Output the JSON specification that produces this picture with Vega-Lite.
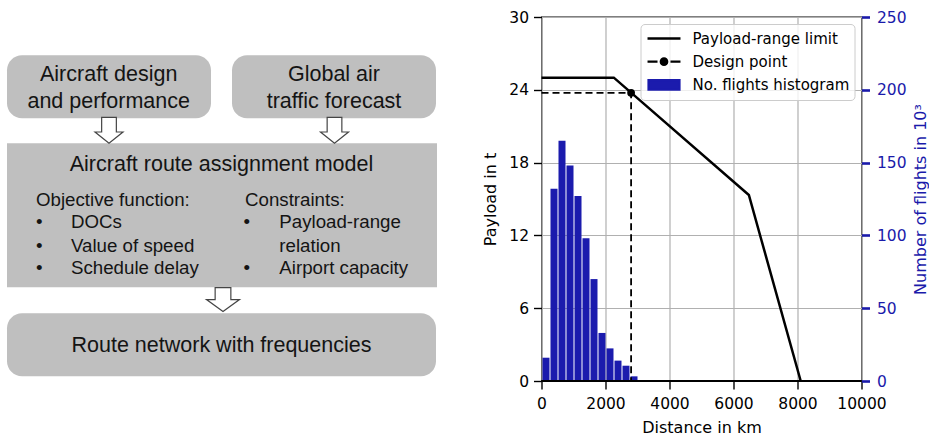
{
  "$schema": "https://vega.github.io/schema/vega-lite/v6.json",
  "padding": {"top": 9, "left": 0, "right": 0, "bottom": 0},
  "background": "white",
  "spacing": 36.5,
  "resolve": {"scale": {"fill": "independent", "stroke": "independent", "shape": "independent"}, "legend": {"fill": "independent", "stroke": "independent", "shape": "independent"}},
  "config": {
    "view": {"stroke": null},
    "font": "DejaVu Sans",
    "axis": {"labelFont": "DejaVu Sans", "titleFont": "DejaVu Sans", "labelColor": "black", "titleColor": "black", "titleFontWeight": "normal", "labelFontSize": 15.5, "titleFontSize": 16, "tickColor": "black", "tickWidth": 1.4, "tickSize": 8, "gridColor": "#b0b0b0", "gridWidth": 1.2, "gridOpacity": 1, "domain": false}
  },
  "datasets": {
    "rounded_boxes": [
      {"box": "Aircraft design and performance", "x1": 7, "x2": 211, "y1": 55, "y2": 118},
      {"box": "Global air traffic forecast", "x1": 232, "x2": 436, "y1": 55, "y2": 118},
      {"box": "Route network with frequencies", "x1": 7, "x2": 436, "y1": 313, "y2": 376}
    ],
    "model_box": [
      {"box": "Aircraft route assignment model", "x1": 7, "x2": 437, "y1": 143, "y2": 287}
    ],
    "arrows_top": [{"x": 109, "y": 130}, {"x": 334.5, "y": 130}],
    "arrow_bottom": [{"x": 223, "y": 299.3}],
    "box_titles": [
      {"label": "Aircraft design", "x": 108.7, "y": 81},
      {"label": "and performance", "x": 108.7, "y": 107.7},
      {"label": "Global air", "x": 334, "y": 81},
      {"label": "traffic forecast", "x": 334, "y": 107.7},
      {"label": "Aircraft route assignment model", "x": 221.5, "y": 170.5},
      {"label": "Route network with frequencies", "x": 221.5, "y": 351.7}
    ],
    "list_items": [
      {"label": "Objective function:", "x": 36, "y": 205.7},
      {"label": "•", "x": 36, "y": 227.7},
      {"label": "DOCs", "x": 71, "y": 227.7},
      {"label": "•", "x": 36, "y": 251.7},
      {"label": "Value of speed", "x": 71, "y": 251.7},
      {"label": "•", "x": 36, "y": 273.3},
      {"label": "Schedule delay", "x": 71, "y": 273.3},
      {"label": "Constraints:", "x": 245, "y": 205.7},
      {"label": "•", "x": 243.5, "y": 227.7},
      {"label": "Payload-range", "x": 279.3, "y": 227.7},
      {"label": "relation", "x": 279.3, "y": 251.7},
      {"label": "•", "x": 243.5, "y": 273.3},
      {"label": "Airport capacity", "x": 279.3, "y": 273.3}
    ],
    "payload_range": [
      {"distance": 0, "payload": 25},
      {"distance": 2260, "payload": 25},
      {"distance": 6480, "payload": 15.33},
      {"distance": 8100, "payload": 0}
    ],
    "design_path": [
      {"step": 1, "distance": 0, "payload": 23.75},
      {"step": 2, "distance": 2800, "payload": 23.75},
      {"step": 3, "distance": 2800, "payload": 0}
    ],
    "design_point": [{"distance": 2800, "payload": 23.75}],
    "flights": [
      {"start": 0, "end": 250, "count": 16},
      {"start": 250, "end": 500, "count": 132},
      {"start": 500, "end": 750, "count": 165},
      {"start": 750, "end": 1000, "count": 148},
      {"start": 1000, "end": 1250, "count": 127},
      {"start": 1250, "end": 1500, "count": 98},
      {"start": 1500, "end": 1750, "count": 70},
      {"start": 1750, "end": 2000, "count": 33},
      {"start": 2000, "end": 2250, "count": 22.4},
      {"start": 2250, "end": 2500, "count": 14},
      {"start": 2500, "end": 2750, "count": 10.5},
      {"start": 2750, "end": 3000, "count": 3.2}
    ],
    "legend_entries": [
      {"series": "Payload-range limit"},
      {"series": "Design point"},
      {"series": "No. flights histogram"}
    ]
  },
  "hconcat": [
    {
      "width": 445,
      "height": 364,
      "view": {"stroke": null},
      "layer": [
        {
          "data": {"name": "rounded_boxes"},
          "mark": {"type": "rect", "cornerRadius": 15, "fill": "#bfbfbf"},
          "encoding": {
            "x": {"field": "x1", "type": "quantitative", "scale": {"domain": [0, 445], "nice": false, "zero": false}, "axis": null},
            "x2": {"field": "x2"},
            "y": {"field": "y1", "type": "quantitative", "scale": {"domain": [16.7, 380.7], "reverse": true, "nice": false, "zero": false}, "axis": null},
            "y2": {"field": "y2"}
          }
        },
        {
          "data": {"name": "model_box"},
          "mark": {"type": "rect", "fill": "#bfbfbf"},
          "encoding": {
            "x": {"field": "x1", "type": "quantitative"},
            "x2": {"field": "x2"},
            "y": {"field": "y1", "type": "quantitative"},
            "y2": {"field": "y2"}
          }
        },
        {
          "data": {"name": "arrows_top"},
          "mark": {"type": "point", "shape": "M-0.525,-0.929L0.525,-0.929L0.525,0.12L1,0.12L0,0.929L-1,0.12L-0.525,0.12Z", "size": 784, "filled": true, "fill": "white", "stroke": "#454545", "strokeWidth": 1.2, "opacity": 1},
          "encoding": {
            "x": {"field": "x", "type": "quantitative"},
            "y": {"field": "y", "type": "quantitative"}
          }
        },
        {
          "data": {"name": "arrow_bottom"},
          "mark": {"type": "point", "shape": "M-0.476,-0.727L0.476,-0.727L0.476,0L1,0L0,0.727L-1,0L-0.476,0Z", "size": 1089, "filled": true, "fill": "white", "stroke": "#454545", "strokeWidth": 1.2, "opacity": 1},
          "encoding": {
            "x": {"field": "x", "type": "quantitative"},
            "y": {"field": "y", "type": "quantitative"}
          }
        },
        {
          "data": {"name": "box_titles"},
          "mark": {"type": "text", "font": "Liberation Sans", "fontSize": 21.5, "align": "center", "baseline": "alphabetic", "color": "#141414"},
          "encoding": {
            "x": {"field": "x", "type": "quantitative"},
            "y": {"field": "y", "type": "quantitative"},
            "text": {"field": "label"}
          }
        },
        {
          "data": {"name": "list_items"},
          "mark": {"type": "text", "font": "Liberation Sans", "fontSize": 18.7, "align": "left", "baseline": "alphabetic", "color": "#141414"},
          "encoding": {
            "x": {"field": "x", "type": "quantitative"},
            "y": {"field": "y", "type": "quantitative"},
            "text": {"field": "label"}
          }
        }
      ]
    },
    {
      "width": 320,
      "height": 364,
      "view": {"stroke": "black", "strokeWidth": 1.3},
      "resolve": {"scale": {"y": "independent"}},
      "layer": [
        {
          "data": {"name": "flights"},
          "mark": {"type": "bar", "color": "#1b1bad", "opacity": 1},
          "encoding": {
            "x": {"field": "start", "type": "quantitative", "bin": "binned", "scale": {"domain": [0, 10000], "nice": false, "zero": false},
              "axis": {"title": "Distance in km", "values": [0, 2000, 4000, 6000, 8000, 10000], "format": "d", "grid": true, "labelFlush": false, "labelOverlap": false, "labelPadding": 7, "titlePadding": 8}},
            "x2": {"field": "end"},
            "y": {"field": "count", "type": "quantitative", "scale": {"domain": [0, 250], "nice": false},
              "axis": {"orient": "right", "title": "Number of flights in 10³", "values": [0, 50, 100, 150, 200, 250], "grid": false, "labelColor": "#1a1aaa", "titleColor": "#1a1aaa", "tickColor": "#1a1aaa", "tickWidth": 2.6, "labelPadding": 7, "titlePadding": 6, "titleAngle": 270, "titleBaseline": "top"}}
          }
        },
        {
          "layer": [
            {
              "data": {"name": "payload_range"},
              "mark": {"type": "line", "color": "black", "strokeWidth": 2.5},
              "encoding": {
                "x": {"field": "distance", "type": "quantitative"},
                "y": {"field": "payload", "type": "quantitative", "scale": {"domain": [0, 30], "nice": false},
                  "axis": {"orient": "left", "title": "Payload in t", "values": [0, 6, 12, 18, 24, 30], "grid": true, "labelPadding": 5, "titlePadding": 10}}
              }
            },
            {
              "data": {"name": "design_path"},
              "mark": {"type": "line", "color": "black", "strokeWidth": 1.8, "strokeDash": [7, 4]},
              "encoding": {
                "x": {"field": "distance", "type": "quantitative"},
                "y": {"field": "payload", "type": "quantitative"},
                "order": {"field": "step", "type": "quantitative"}
              }
            },
            {
              "data": {"name": "design_point"},
              "mark": {"type": "point", "filled": true, "color": "black", "size": 60, "opacity": 1},
              "encoding": {
                "x": {"field": "distance", "type": "quantitative"},
                "y": {"field": "payload", "type": "quantitative"}
              }
            },
            {
              "data": {"name": "payload_range"},
              "mark": {"type": "rule", "color": "black", "strokeWidth": 1.3},
              "encoding": {
                "y": {"datum": 0}
              }
            },
            {
              "data": {"name": "legend_entries"},
              "transform": [{"filter": "false"}],
              "mark": {"type": "point", "filled": true, "opacity": 1},
              "encoding": {
                "fill": {"field": "series", "type": "nominal",
                  "scale": {"domain": ["Payload-range limit", "Design point", "No. flights histogram"], "range": ["black", "black", "#1b1bad"]},
                  "legend": {"title": null, "orient": "top-right", "offset": 7, "padding": 5, "fillColor": "rgba(255,255,255,0.8)", "strokeColor": "#cccccc", "cornerRadius": 4, "labelFont": "DejaVu Sans", "labelFontSize": 15, "labelColor": "black", "symbolSize": 256, "symbolStrokeWidth": 2.3, "symbolOffset": 9, "labelOffset": 19, "rowPadding": 5.2, "symbolOpacity": 1}},
                "stroke": {"field": "series", "type": "nominal",
                  "scale": {"domain": ["Payload-range limit", "Design point", "No. flights histogram"], "range": ["black", "black", "#1b1bad"]},
                  "legend": {"title": null, "orient": "top-right", "offset": 7, "padding": 5, "fillColor": "rgba(255,255,255,0.8)", "strokeColor": "#cccccc", "cornerRadius": 4, "labelFont": "DejaVu Sans", "labelFontSize": 15, "labelColor": "black", "symbolSize": 256, "symbolStrokeWidth": 2.3, "symbolOffset": 9, "labelOffset": 19, "rowPadding": 5.2, "symbolOpacity": 1}},
                "shape": {"field": "series", "type": "nominal",
                  "scale": {"domain": ["Payload-range limit", "Design point", "No. flights histogram"], "range": ["M-2.06,0L2.06,0", "M-2.06,0L-0.81,0M0.81,0L2.06,0M-0.4,0A0.4,0.4,0,1,1,0.4,0A0.4,0.4,0,1,1,-0.4,0Z", "M-1.93,-0.58L1.93,-0.58L1.93,0.58L-1.93,0.58Z"]},
                  "legend": {"title": null, "orient": "top-right", "offset": 7, "padding": 5, "fillColor": "rgba(255,255,255,0.8)", "strokeColor": "#cccccc", "cornerRadius": 4, "labelFont": "DejaVu Sans", "labelFontSize": 15, "labelColor": "black", "symbolSize": 256, "symbolStrokeWidth": 2.3, "symbolOffset": 9, "labelOffset": 19, "rowPadding": 5.2, "symbolOpacity": 1}}
              }
            }
          ]
        }
      ]
    }
  ]
}
